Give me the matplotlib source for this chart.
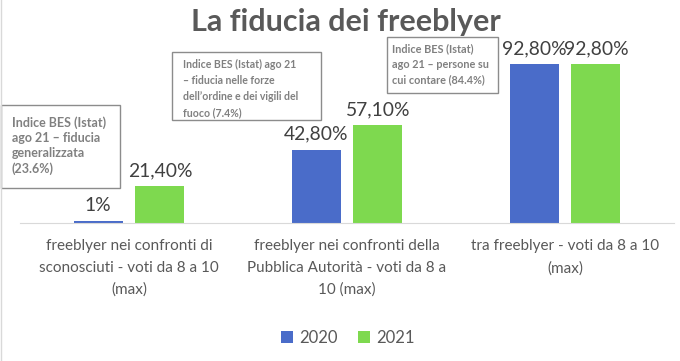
import numpy as np
import matplotlib.pyplot as plt
from matplotlib.patches import Rectangle
from matplotlib.lines import Line2D

categories = ['freeblyer nei confronti di\nsconosciuti - voti da 8 a 10\n(max)',
              'freeblyer nei confronti della\nPubblica Autorità - voti da 8 a\n10 (max)',
              'tra freeblyer - voti da 8 a 10\n(max)']
v2020 = [1.0, 42.8, 92.8]
v2021 = [21.4, 57.1, 92.8]
lab2020 = ['1%', '42,80%', '92,80%']
lab2021 = ['21,40%', '57,10%', '92,80%']
notes = ['Indice BES (Istat)\nago 21 – fiducia\ngeneralizzata\n(23.6%)',
         'Indice BES (Istat) ago 21\n– fiducia nelle forze\ndell’ordine e dei vigili del\nfuoco (7.4%)',
         'Indice BES (Istat)\nago 21 – persone su\ncui contare (84.4%)']

W, H = 680, 361
blue = '#4A6CC9'
green = '#7ED94F'
plt.rcParams['font.family'] = ['Lato', 'DejaVu Sans']

fig = plt.figure(figsize=(W / 100, H / 100), dpi=100)
ax = fig.add_axes([20 / W, 1 - 223 / H, 654 / W, (223 - 50) / H])

x = np.arange(len(categories))
bw = 0.225
off = 0.142
b1 = ax.bar(x - off, v2020, bw, color=blue, label='2020')
b2 = ax.bar(x + off, v2021, bw, color=green, label='2021')
for xi, v, l in zip(x - off, v2020, lab2020):
    ax.text(xi, v + 4, l, ha='center', va='bottom', fontsize=13.9, color='#404040')
for xi, v, l in zip(x + off, v2021, lab2021):
    ax.text(xi, v + 4, l, ha='center', va='bottom', fontsize=13.9, color='#404040')

ax.set_xlim(-0.5, 2.5)
ax.set_ylim(0, 101)
ax.set_xticks(x)
ax.set_xticklabels(categories, fontsize=11, color='#595959', linespacing=1.7)
ax.tick_params(length=0, pad=11.5)
ax.set_yticks([])
for s in ['top', 'left', 'right']:
    ax.spines[s].set_visible(False)
ax.spines['bottom'].set_color('#d9d9d9')

fig.text(346 / W, 1 - 22 / H, 'La fiducia dei freeblyer', ha='center', va='center',
         fontsize=22, fontweight='bold', color='#595959')

# annotation boxes (pixel coords: x0, y0, x1, y1, text x, text y, size, spacing)
boxes = [(1, 105, 120, 188, 12, 116, 9.0, 1.32),
         (172, 52, 321, 120, 183, 59, 7.6, 1.55),
         (387, 37, 498, 93, 392, 43, 7.8, 1.5)]
for (x0, y0, x1, y1, tx, ty, fs, ls), t in zip(boxes, notes):
    fig.add_artist(Rectangle((x0 / W, 1 - y1 / H), (x1 - x0) / W, (y1 - y0) / H,
                             transform=fig.transFigure, facecolor='white',
                             edgecolor='#8c8c8c', lw=1))
    fig.text(tx / W, 1 - ty / H, t, ha='left', va='top', fontsize=fs,
             fontweight='bold', color='#808080', linespacing=ls)

fig.legend(handles=[b1, b2], loc='center', bbox_to_anchor=(348 / W, 1 - 338 / H),
           ncol=2, frameon=False, fontsize=12, labelcolor='#595959',
           handlelength=0.7, handleheight=0.7, handletextpad=0.4, columnspacing=1.2)

fig.add_artist(Line2D([0.001, 0.001], [0, 1], transform=fig.transFigure,
                      color='#d9d9d9', lw=1))

fig.savefig('out.png', dpi=100)
